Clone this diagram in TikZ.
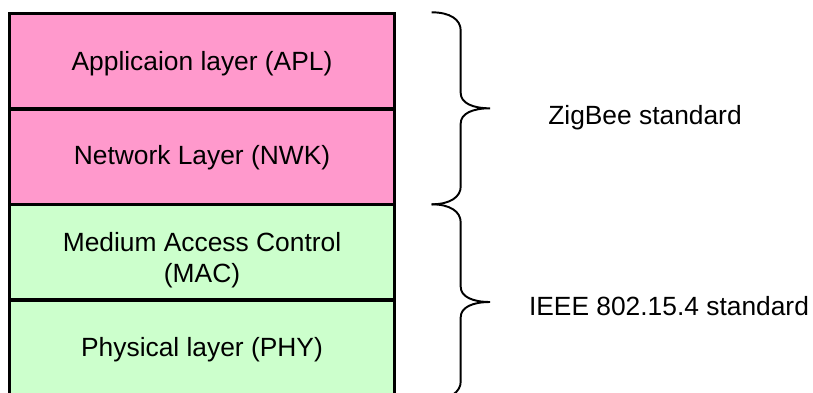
\documentclass[tikz,border=0pt]{standalone}
\usepackage{fontspec}
\setmainfont{Liberation Sans}
\definecolor{zbpink}{HTML}{FF99CC}
\definecolor{ieeegreen}{HTML}{CCFFCC}

\begin{document}
\begin{tikzpicture}[font=\fontsize{15}{18}\selectfont]
%%%%%%%%%%%%%%%%%%%%%%%%%%%%%%%%%%%%%%%%%%% HELP LINES
%\draw[help lines] (0,0) grid +(16,8);
\useasboundingbox (0,0) rectangle (16.26,7.84);

%%%%%%%%%%%%%%%%%%%%%%%%%%%%%%%%%%%%%%%%%%% layers
\draw[line width=1.9pt, fill=ieeegreen] (0.19,-0.07) rectangle +(7.7,1.91);
\node[shape=rectangle, draw=none, anchor=base](phy) at (4.04,0.72){Physical layer (PHY)};
\draw[line width=1.9pt, fill=ieeegreen] (0.19,1.84) rectangle +(7.7,1.91);
\node[shape=rectangle, draw=none, align=center](mac) at (4.04,2.64){Medium Access Control\\(MAC)};
\draw[line width=1.9pt, fill=zbpink] (0.19,3.75) rectangle +(7.7,1.91);
\node[shape=rectangle, draw=none, anchor=base](nwk) at (4.04,4.56){Network Layer (NWK)};
\draw[line width=1.9pt, fill=zbpink] (0.19,5.66) rectangle +(7.7,1.91);
\node[shape=rectangle, draw=none, anchor=base](apl) at (4.04,6.44){Applicaion layer (APL)};

%%%%% braces and standards
\draw[line width=1.1pt] (8.634,7.594) .. controls (9.0,7.594) and (9.214,7.45) .. (9.214,7.23) -- (9.214,5.98)
  .. controls (9.214,5.78) and (9.45,5.674) .. (9.8,5.674)
  .. controls (9.45,5.674) and (9.214,5.57) .. (9.214,5.37) -- (9.214,4.11)
  .. controls (9.214,3.9) and (9.0,3.754) .. (8.634,3.754);
\draw[line width=1.1pt] (8.634,3.754) .. controls (9.0,3.754) and (9.214,3.61) .. (9.214,3.39) -- (9.214,2.106)
  .. controls (9.214,1.906) and (9.45,1.80) .. (9.8,1.80)
  .. controls (9.45,1.80) and (9.214,1.694) .. (9.214,1.494) -- (9.214,0.21)
  .. controls (9.214,0.0) and (9.0,-0.154) .. (8.634,-0.154);
\node[shape=rectangle, draw=none, anchor=base](zigbee) at (12.9,5.36){ZigBee standard};
\node[shape=rectangle, draw=none, anchor=base](ieee) at (13.38,1.54){IEEE 802.15.4 standard};
\end{tikzpicture}
\end{document}
